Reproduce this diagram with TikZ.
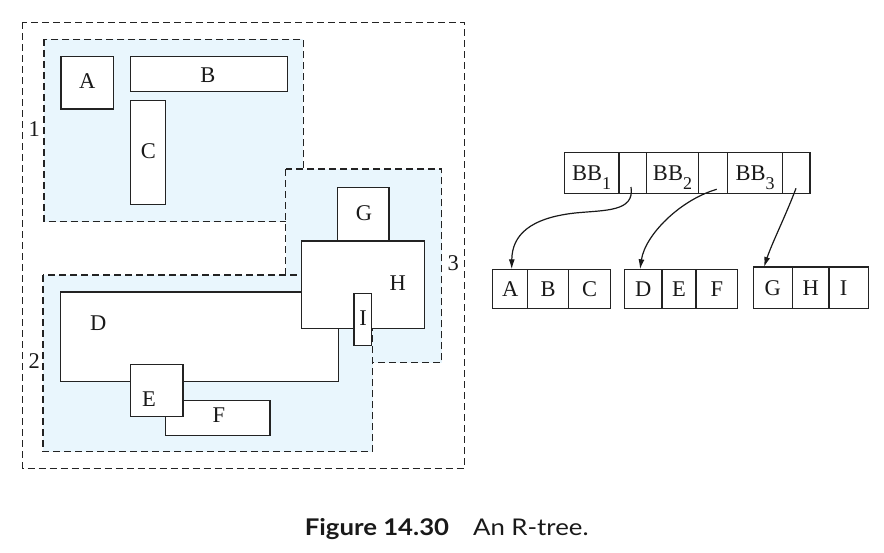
\documentclass[tikz,border=0pt]{standalone}
\usepackage{fontspec}
\setmainfont{Liberation Serif}
\newfontfamily\capfont[FakeStretch=1.12]{Lato}
\usetikzlibrary{arrows.meta}
\definecolor{regfill}{RGB}{233,246,253}
\definecolor{ink}{RGB}{35,35,35}
\definecolor{txt}{RGB}{25,25,25}
\newcommand{\bbsub}[1]{\smash{\raisebox{-9pt}{\fontsize{18}{18}\selectfont #1}}}
\begin{document}
\begin{tikzpicture}[x=1pt,y=-1pt,
  region/.style={draw=ink, line width=1.3pt, dash pattern=on 7pt off 4pt, fill=regfill},
  outerreg/.style={draw=ink, line width=1.3pt, dash pattern=on 7pt off 4pt},
  solidbox/.style={draw=ink, line width=1.4pt, fill=white},
  lbl/.style={inner sep=0pt, text=txt, font=\fontsize{22.5}{24}\selectfont},
  cell/.style={draw=ink, line width=1.4pt, inner sep=0pt, outer sep=0pt, text=txt, font=\fontsize{22.5}{24}\selectfont},
  ptr/.style={draw=txt, line width=1.2pt, -{Latex[length=10pt,width=6pt]}}]
\useasboundingbox (0,0) rectangle (884,552);
% outer and regions
\draw[outerreg] (22.7,22.3) rectangle (464.3,468.3);
\draw[region] (44,39.3) rectangle (303.3,221.7);
\draw[region] (285.7,169) rectangle (441.7,362.7);
\draw[region] (43,275) rectangle (372.7,451.7);
% objects
\draw[solidbox] (61,56.7) rectangle (113.3,109);
\draw[solidbox] (130.7,56.7) rectangle (287.3,91.3);
\draw[solidbox] (130.7,100.3) rectangle (165.3,204.7);
\draw[solidbox] (60.7,292) rectangle (338.3,381.7);
\draw[solidbox] (337.3,187.7) rectangle (389,240.7);
\draw[solidbox] (301.7,241) rectangle (424.3,328.3);
\draw[solidbox] (354,293.3) rectangle (371.7,345.7);
\draw[solidbox] (165.3,400.3) rectangle (270,435.3);
\draw[solidbox] (130.7,364.3) rectangle (183,416.7);
% labels
\node[lbl] (tA) at (87.3,81.5) {A};
\node[lbl] (tB) at (208,75) {B};
\node[lbl] (tC) at (148.3,151) {C};
\node[lbl] (tG) at (364,213.5) {G};
\node[lbl] (tH) at (397.7,283.5) {H};
\node[lbl] (tI) at (363,317.7) {I};
\node[lbl] (tD) at (98.3,323.5) {D};
\node[lbl] (tE) at (149,399.5) {E};
\node[lbl] (tF) at (219,415.5) {F};
\node[lbl] (n1) at (34.3,129.3) {1};
\node[lbl] (n2) at (34.3,360.7) {2};
\node[lbl] (n3) at (453.3,263.3) {3};
% tree: root
\node[cell, minimum width=54.7pt, minimum height=41.4pt] (bb1) at (591.65,173) {BB\bbsub{1}};
\node[cell, minimum width=27.7pt, minimum height=41.4pt] (p1) at (632.85,173) {};
\node[cell, minimum width=51.6pt, minimum height=41.4pt] (bb2) at (672.5,173) {BB\bbsub{2}};
\node[cell, minimum width=29.4pt, minimum height=41.4pt] (p2) at (713,173) {};
\node[cell, minimum width=55pt, minimum height=41.4pt] (bb3) at (755.2,173) {BB\bbsub{3}};
\node[cell, minimum width=27.3pt, minimum height=41.4pt] (p3) at (796.35,173) {};
% leaves
\node[cell, minimum width=35pt, minimum height=39.4pt] (la) at (510.2,289) {A};
\node[cell, minimum width=41pt, minimum height=39.4pt] (lb) at (548.2,289) {B};
\node[cell, minimum width=42pt, minimum height=39.4pt] (lc) at (589.7,289) {C};
\node[cell, minimum width=37.3pt, minimum height=39.4pt] (ld) at (643.35,289) {D};
\node[cell, minimum width=34pt, minimum height=39.4pt] (le) at (679,289) {E};
\node[cell, minimum width=41.7pt, minimum height=39.4pt] (lf) at (716.85,289) {F};
\node[cell, minimum width=39pt, minimum height=41.7pt] (lg) at (772.8,287.85) {G};
\node[cell, minimum width=36.7pt, minimum height=41.7pt] (lh) at (810.65,287.85) {H};
\node[cell, minimum width=39.3pt, minimum height=41.7pt] (li) at (848.65,287.85) {\hspace*{-10pt}I};
% pointers
\coordinate (s1) at (631,187);
\coordinate (s2) at (716.7,189.3);
\coordinate (s3) at (796,188.3);
\draw[ptr] (s1) .. controls (635,212) and (605,210) .. (575,213) .. controls (530,218) and (512,235) .. ([xshift=1.5pt]la.north);
\draw[ptr] (s2) .. controls (680,200) and (645,235) .. ([xshift=-3.3pt]ld.north);
\draw[ptr] (s3) .. controls (786,215) and (772,243) .. ([xshift=-8.8pt]lg.north);
% caption
\node[anchor=base, inner sep=0pt, text=txt, font=\capfont\fontsize{23}{25}\selectfont] (cap) at (446.7,535) {\textbf{Figure 14.30}\hspace{24pt}An R-tree.};
\end{tikzpicture}
\end{document}
